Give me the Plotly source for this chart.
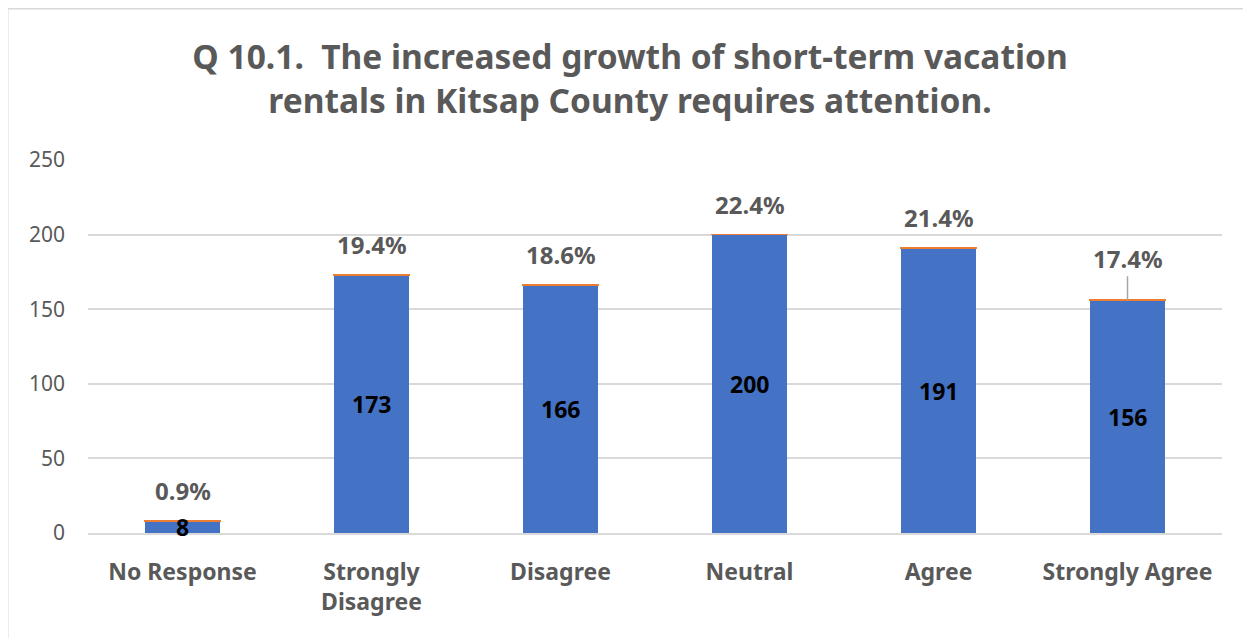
import plotly.graph_objects as go

# survey responses, Q 10.1
categories = ["No Response", "Strongly Disagree", "Disagree", "Neutral", "Agree", "Strongly Agree"]
tick_labels = ["No Response", "Strongly<br>Disagree", "Disagree", "Neutral", "Agree", "Strongly Agree"]
counts = [8, 173, 166, 200, 191, 156]
percents = [0.9, 19.4, 18.6, 22.4, 21.4, 17.4]

BLUE = "#4472C4"
ORANGE = "#ED7D31"
GREY = "#595959"
FONT = "Noto Sans"

# page has an 8px body margin, so the figure is a bit smaller than the window
W, H = 1243, 630
L, R, T, B = 80, 29, 152, 105

fig = go.Figure()
fig.add_trace(go.Bar(x=categories, y=counts, marker=dict(color=BLUE, line=dict(width=0)),
                     name="Count", hoverinfo="skip"))
# tiny orange cap = percentage share stacked on top
fig.add_trace(go.Bar(x=categories, y=[p / 100 for p in percents],
                     marker=dict(color=ORANGE, line=dict(color=ORANGE, width=1.5)),
                     name="Percent", hoverinfo="skip"))

# count labels in middle of bars
for c, n in zip(categories, counts):
    fig.add_annotation(x=c, y=n / 2, text=str(n), showarrow=False,
                       font=dict(family=FONT, size=23, color="black", weight="bold"))

# percent labels above bars
for c, n, p in zip(categories, counts, percents):
    if c == "Strongly Agree":
        fig.add_annotation(x=c, y=n, text=f"{p}%", showarrow=True, arrowhead=0,
                           arrowwidth=1.5, arrowcolor="#A6A6A6", ax=0, ay=-42,
                           font=dict(family=FONT, size=24, color=GREY, weight="bold"))
    else:
        fig.add_annotation(x=c, y=n, text=f"{p}%", showarrow=False, yanchor="bottom",
                           yshift=12, font=dict(family=FONT, size=24, color=GREY, weight="bold"))

# light border on top and left edge of the chart box
pw, ph = W - L - R, H - T - B
x0 = (-1 - L) / pw
y_top = (ph + T) / ph
y_bot = -B / ph
fig.add_shape(type="line", xref="paper", yref="paper", x0=x0, x1=(W - L) / pw, y0=y_top, y1=y_top,
              line=dict(color="#D9D9D9", width=3))
fig.add_shape(type="line", xref="paper", yref="paper", x0=x0, x1=x0, y0=y_top, y1=y_bot,
              line=dict(color="#D9D9D9", width=3))

fig.update_layout(
    width=W, height=H,
    barmode="stack", bargap=0.6,
    showlegend=False,
    plot_bgcolor="white", paper_bgcolor="white",
    margin=dict(l=L, r=R, t=T, b=B),
    title=dict(text="Q 10.1.  The increased growth of short-term vacation<br>rentals in Kitsap County requires attention.",
               x=(630 - 8) / W, xanchor="center", y=1 - (69 - 8) / H, yanchor="middle", yref="container",
               font=dict(family=FONT, size=33.5, color=GREY, weight="bold")),
)
fig.update_xaxes(tickvals=categories, ticktext=tick_labels, showgrid=False,
                 showline=True, linecolor="#D9D9D9", linewidth=2, ticks="",
                 ticklabelstandoff=17,
                 tickfont=dict(family=FONT, size=23, color=GREY, weight="bold"))
fig.update_yaxes(range=[0, 250], dtick=50, showgrid=True, gridcolor="#D9D9D9", gridwidth=1.5,
                 zeroline=False, ticks="", ticklabelstandoff=22,
                 tickfont=dict(family=FONT, size=21, color=GREY))

fig.write_html("out.html")
